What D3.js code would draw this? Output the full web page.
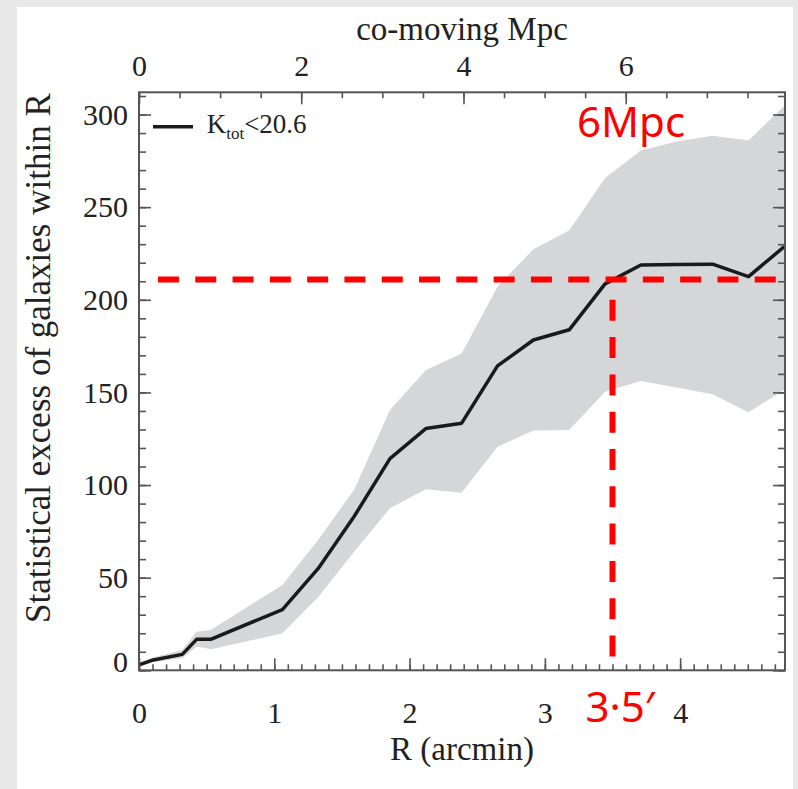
<!DOCTYPE html>
<html>
<head>
<meta charset="utf-8">
<script src="https://cdn.jsdelivr.net/npm/d3@7"></script>
<style>
  html, body { margin: 0; padding: 0; background: #e8e8e8; }
  svg { display: block; }
  .serif { font-family: "Liberation Serif", "Times New Roman", serif; fill: #222; }
</style>
</head>
<body>
<svg id="chart" width="798" height="789"></svg>
<script>
// Radius in arcmin and the measured statistical excess with its 1-sigma band
const radiusArcmin = [0, 0.106, 0.32, 0.426, 0.53, 1.06, 1.325, 1.59, 1.855, 2.12, 2.385, 2.65, 2.915, 3.18, 3.445, 3.71, 3.975, 4.24, 4.505, 4.77];
const excess       = [3, 5.6, 8.6, 16.7, 16.7, 32.8, 55, 83, 114.3, 130.5, 133.4, 164.3, 178.3, 183.8, 208.6, 218.8, 219, 219.2, 212.5, 228.7];
const excessUpper  = [4, 7, 11, 20.8, 21.8, 46, 70.5, 97.5, 140.5, 162, 171, 207, 227.3, 237.4, 265.7, 280.6, 285.4, 288.5, 286, 304.7];
const excessLower  = [2, 4.5, 6.5, 12.8, 11.3, 20, 39.5, 64, 87.5, 97.7, 95.9, 120.7, 129.4, 129.7, 150.4, 156.2, 152.6, 149, 139.3, 151.3];

// Axis ticks
const yMajorTicks = [0, 50, 100, 150, 200, 250, 300];
const xMajorTicks = [0, 1, 2, 3, 4];
const mpcMajorTicks = [0, 2, 4, 6];

// Conversion from arcmin to co-moving Mpc for the upper axis
const mpcPerArcmin = 1.6677;

// Reference marks drawn on the plot
const markRadius = 3.5;
const markExcess = 211;

const svg = d3.select("#chart");

// white page panel
svg.append("rect").attr("x", 17).attr("y", 7).attr("width", 776).attr("height", 782).attr("fill", "#fff");

const margin = { left: 139, top: 92.3, right: 13, bottom: 118.7 };
const W = 798 - margin.left - margin.right;
const H = 789 - margin.top - margin.bottom;

const xMax = 4.775, yMax = 312;
const x = d3.scaleLinear().domain([0, xMax]).range([0, W]);
const y = d3.scaleLinear().domain([0, yMax]).range([H, 0]);
const xMpc = d3.scaleLinear().domain([0, xMax * mpcPerArcmin]).range([0, W]);

const g = svg.append("g").attr("transform", `translate(${margin.left},${margin.top})`);

g.append("clipPath").attr("id", "plotClip")
  .append("rect").attr("width", W).attr("height", H);

const pts = radiusArcmin.map((r, i) => ({ r, v: excess[i], hi: excessUpper[i], lo: excessLower[i] }));

const plot = g.append("g").attr("clip-path", "url(#plotClip)");

// 1-sigma band
plot.append("path").datum(pts)
  .attr("fill", "#d5d6d8")
  .attr("d", d3.area().x(d => x(d.r)).y0(d => y(d.lo)).y1(d => y(d.hi)));

// measured excess
plot.append("path").datum(pts)
  .attr("fill", "none").attr("stroke", "#1a1a1a").attr("stroke-width", 3.5)
  .attr("stroke-linejoin", "round")
  .attr("d", d3.line().x(d => x(d.r)).y(d => y(d.v)));

// axes with inward ticks
const axisColor = "#555";
function styleAxis(sel) {
  sel.select(".domain").remove();
  sel.selectAll("line").attr("stroke", axisColor).attr("stroke-width", 1.6);
  sel.selectAll("text").attr("class", "serif").attr("font-size", 30).attr("fill", "#222");
}
const minorY = d3.range(0, 311, 10);
const minorX = d3.range(0, 4.78, 0.1);
const minorMpc = d3.range(0, 7.96, 0.5);

g.append("g").attr("transform", `translate(0,${H})`)
  .call(d3.axisBottom(x).tickValues(minorX).tickSize(-6).tickFormat("")).call(styleAxis);
g.append("g").attr("transform", `translate(0,${H})`)
  .call(d3.axisBottom(x).tickValues(xMajorTicks).tickSize(-12).tickPadding(31).tickFormat(d3.format("d"))).call(styleAxis);

g.append("g")
  .call(d3.axisTop(xMpc).tickValues(minorMpc).tickSize(-6).tickFormat("")).call(styleAxis);
g.append("g")
  .call(d3.axisTop(xMpc).tickValues(mpcMajorTicks).tickSize(-12).tickPadding(16.6).tickFormat(d3.format("d"))).call(styleAxis);

g.append("g")
  .call(d3.axisLeft(y).tickValues(minorY).tickSize(-7).tickFormat("")).call(styleAxis);
const yAx = g.append("g")
  .call(d3.axisLeft(y).tickValues(yMajorTicks).tickSize(-12).tickPadding(11).tickFormat(d3.format("d"))).call(styleAxis);
// lift the zero label off the bottom axis
yAx.selectAll(".tick").filter(d => d === 0).select("text").attr("dy", "0.05em");

g.append("g").attr("transform", `translate(${W},0)`)
  .call(d3.axisRight(y).tickValues(minorY).tickSize(-7).tickFormat("")).call(styleAxis);
g.append("g").attr("transform", `translate(${W},0)`)
  .call(d3.axisRight(y).tickValues(yMajorTicks).tickSize(-12).tickFormat("")).call(styleAxis);

// frame
g.append("rect").attr("width", W).attr("height", H)
  .attr("fill", "none").attr("stroke", axisColor).attr("stroke-width", 2);

// axis titles
svg.append("text").attr("class", "serif").attr("font-size", 33)
  .attr("x", margin.left + W / 2).attr("y", 760).attr("text-anchor", "middle")
  .text("R (arcmin)");
svg.append("text").attr("class", "serif").attr("font-size", 33)
  .attr("x", margin.left + W / 2).attr("y", 40).attr("text-anchor", "middle")
  .text("co-moving Mpc");
svg.append("text").attr("class", "serif").attr("font-size", 35)
  .attr("transform", "translate(50,623) rotate(-90)").attr("text-anchor", "start")
  .text("Statistical excess of galaxies within R");

// legend
g.append("line").attr("x1", 14).attr("x2", 54).attr("y1", 34.4).attr("y2", 34.4)
  .attr("stroke", "#1a1a1a").attr("stroke-width", 3.5);
const leg = g.append("text").attr("class", "serif").attr("x", 67.7).attr("y", 41).attr("font-size", 27);
leg.append("tspan").text("K");
leg.append("tspan").attr("font-size", 17).attr("dy", 6).text("tot");
leg.append("tspan").attr("dy", -6).text("<20.6");

// red reference lines
const red = "#ff0000";
g.append("line")
  .attr("x1", x(0.14)).attr("x2", x(4.71)).attr("y1", y(markExcess)).attr("y2", y(markExcess))
  .attr("stroke", red).attr("stroke-width", 6).attr("stroke-dasharray", "21 16.3");
g.append("line")
  .attr("x1", x(markRadius)).attr("x2", x(markRadius)).attr("y1", y(200)).attr("y2", y(6.6))
  .attr("stroke", red).attr("stroke-width", 6).attr("stroke-dasharray", "21 16.3");

// red annotations
svg.append("text").attr("x", 577).attr("y", 137).attr("font-family", "'Noto Sans', sans-serif")
  .attr("font-size", 42).attr("fill", red).text("6Mpc");
svg.append("text").attr("x", margin.left + x(markRadius) - 27).attr("y", 721.5).attr("font-family", "'Noto Sans', sans-serif")
  .attr("font-size", 42).attr("fill", red).text("3\u00B75\u2032");
</script>
</body>
</html>
